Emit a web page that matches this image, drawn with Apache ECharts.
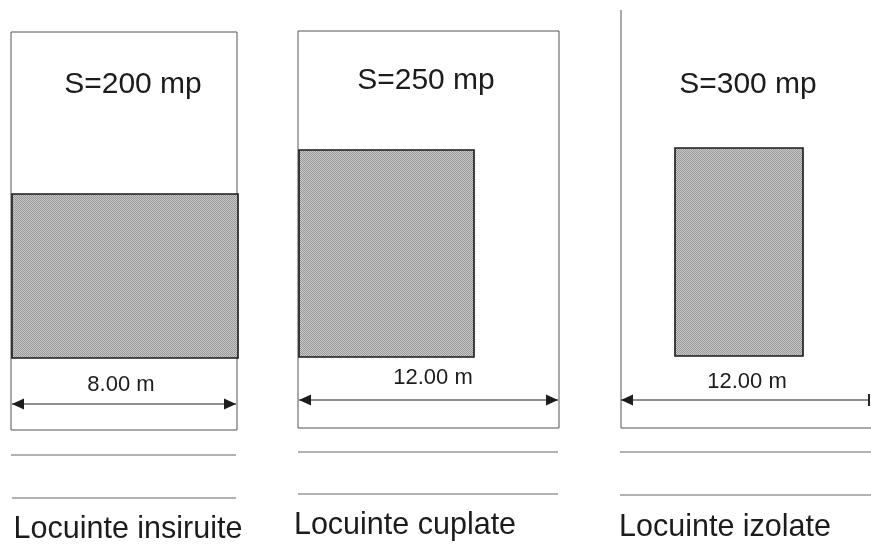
<!DOCTYPE html>
<html><head><meta charset="utf-8">
<style>html,body{margin:0;padding:0;background:#fff}#c{width:871px;height:544px}</style>
<script src="https://cdn.jsdelivr.net/npm/echarts@6/dist/echarts.min.js"></script>
</head><body><div id="c"></div>
<script>
// Diagram values (axis units = picture units)
const lotOutlines = [
  [[11,358],[11,32],[237,32],[237,430],[11,430],[11,358]],
  [[298,357],[298,31],[559,31],[559,428],[298,428],[298,357]],
  [[621,10],[621,428],[871,428]]
];
const buildings = [
  [12,194,238,358],
  [299,150,474,357],
  [675,148,803,356]
];
// x from, x to, y, arrow at the right end (1/0)
const dimensionLines = [
  [12,236,404,1],
  [299,558,400,1],
  [621,870,400,0]
];
const dimensionEndTick = [[[869,394],[869,406]]];
const streetLines = [
  [[11,455],[236,455]], [[12,498],[236,498]],
  [[298,452],[558,452]], [[298,494],[558,494]],
  [[620,452],[871,452]], [[620,495],[871,495]]
];
const areaLabels = [["S=200 mp",133,85],["S=250 mp",426,81],["S=300 mp",748,85]];
const widthLabels = [["8.00 m",121,385],["12.00 m",433,378],["12.00 m",747,382]];
const typeLabels = [["Locuinte insiruite",128,530],["Locuinte cuplate",405,526],["Locuinte izolate",725,528]];

// dithered halftone fill
const tile = document.createElement('canvas'); tile.width = tile.height = 2;
const g = tile.getContext('2d');
g.fillStyle = '#c8c8c8'; g.fillRect(0,0,2,2);
g.fillStyle = '#989898'; g.fillRect(0,0,1,1); g.fillRect(1,1,1,1);

const textSeries = (rows, size) => ({
  type:'custom', coordinateSystem:'cartesian2d', silent:true, z:5,
  data: rows.map(r=>[r[1],r[2],r[0]]),
  encode:{x:0,y:1},
  renderItem:(p,api)=>{
    const pt = api.coord([api.value(0),api.value(1)]);
    return {type:'text', style:{x:pt[0],y:pt[1],text:rows[p.dataIndex][0],
      fill:'#1c1c1c', font:size+'px "Liberation Sans", Arial, sans-serif',
      textAlign:'center', textVerticalAlign:'middle'}};
  }
});

const HEAD_LEN = 12, HEAD_HALF = 5.5;
const head = (tip, dir) => ({type:'polygon',
  shape:{points:[tip,[tip[0]+dir*HEAD_LEN,tip[1]-HEAD_HALF],[tip[0]+dir*HEAD_LEN,tip[1]+HEAD_HALF]]},
  style:{fill:'#1c1c1c'}});

const chart = echarts.init(document.getElementById('c'),null,{renderer:'canvas'});
chart.setOption({
  animation:false, backgroundColor:'#fff',
  grid:{left:0,right:0,top:0,bottom:0},
  xAxis:{type:'value',min:0,max:871,show:false},
  yAxis:{type:'value',min:0,max:544,inverse:true,show:false},
  series:[
    {type:'lines',coordinateSystem:'cartesian2d',polyline:true,silent:true,z:2,
     lineStyle:{color:'#555',width:1,opacity:1},
     data:lotOutlines.map(c=>({coords:c}))},
    {type:'lines',coordinateSystem:'cartesian2d',polyline:true,silent:true,z:2,
     lineStyle:{color:'#666',width:1,opacity:1},
     data:streetLines.map(c=>({coords:c}))},
    {type:'custom',coordinateSystem:'cartesian2d',silent:true,z:3,
     data:buildings, encode:{x:[0,2],y:[1,3]},
     renderItem:(p,api)=>{
       const a=api.coord([api.value(0),api.value(1)]), b=api.coord([api.value(2),api.value(3)]);
       return {type:'rect',shape:{x:a[0],y:a[1],width:b[0]-a[0],height:b[1]-a[1]},
         style:{fill:{image:tile,repeat:'repeat'},stroke:'#1a1a1a',lineWidth:1.6}};
     }},
    {type:'custom',coordinateSystem:'cartesian2d',silent:true,z:4,
     data:dimensionLines, encode:{x:[0,1],y:2},
     renderItem:(p,api)=>{
       const a=api.coord([api.value(0),api.value(2)]), b=api.coord([api.value(1),api.value(2)]);
       const kids=[{type:'line',shape:{x1:a[0],y1:a[1],x2:b[0],y2:b[1]},style:{stroke:'#222',lineWidth:1.2}},head(a,1)];
       if(api.value(3)) kids.push(head(b,-1));
       return {type:'group',children:kids};
     }},
    {type:'lines',coordinateSystem:'cartesian2d',polyline:true,silent:true,z:4,
     lineStyle:{color:'#222',width:2,opacity:1},
     data:dimensionEndTick.map(c=>({coords:c}))},
    textSeries(areaLabels,30),
    textSeries(widthLabels,22),
    textSeries(typeLabels,30.5)
  ]
});
</script></body></html>
